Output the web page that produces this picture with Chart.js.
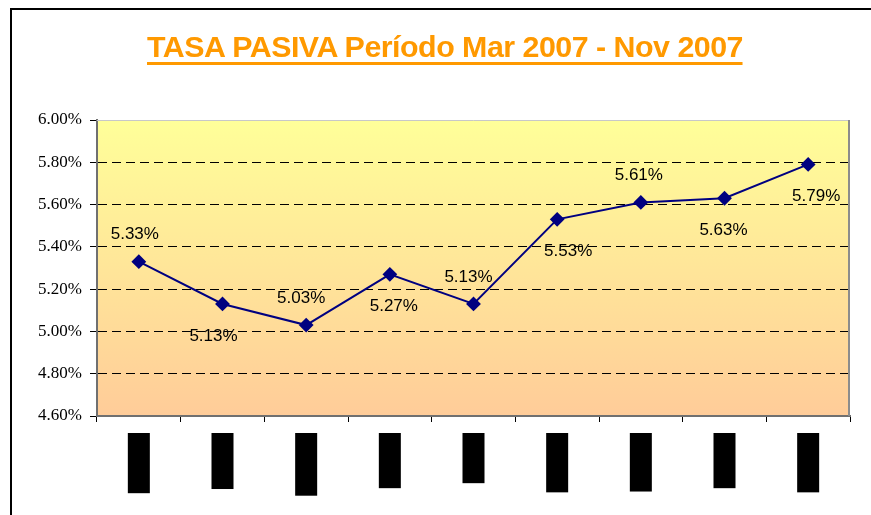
<!DOCTYPE html>
<html>
<head>
<meta charset="utf-8">
<script src="https://cdn.jsdelivr.net/npm/chart.js@4/dist/chart.umd.min.js"></script>
<style>
  html, body { margin: 0; padding: 0; background: #fff; }
  #wrap { position: relative; width: 871px; height: 515px; overflow: hidden; }
  #frame { position: absolute; left: 10px; top: 8px; width: 880px; height: 600px;
           border-left: 2px solid #000; border-top: 2px solid #000; }
  #title { position: absolute; left: 147px; top: 32px; white-space: nowrap;
           font: bold 30px "Liberation Sans", Arial, sans-serif; line-height: 30px;
           color: #FF9900; border-bottom: 3px solid #FF9900; transform-origin: 0 0;
           letter-spacing: -0.5px; }
  canvas { position: absolute; left: 0; top: 0; }
</style>
</head>
<body>
<div id="wrap">
  <canvas id="myChart" width="871" height="515"></canvas>
  <div id="frame"></div>
  <div id="title">TASA PASIVA Período Mar 2007 - Nov 2007</div>
</div>
<script>
const months = ['mar-07', 'abr-07', 'may-07', 'jun-07', 'jul-07', 'ago-07', 'sep-07', 'oct-07', 'nov-07'];
const tasa = [5.33, 5.13, 5.03, 5.27, 5.13, 5.53, 5.61, 5.63, 5.79];
const yTicks = [4.60, 4.80, 5.00, 5.20, 5.40, 5.60, 5.80, 6.00];

// where each value label sits relative to its point
const labelSide = ['up', 'down', 'up', 'down', 'up', 'down', 'up', 'down', 'down'];
const labelShift = [-4, -9, -5, 4, -5, 11, -2, -1, 8];

// squeeze the title to the width it has in the picture
const title = document.getElementById('title');
title.style.transform = 'scaleX(' + (596 / title.getBoundingClientRect().width) + ')';

const paint = {
  id: 'paint',
  beforeDraw(chart) {
    const {ctx, chartArea: a} = chart;
    const g = ctx.createLinearGradient(0, a.top, 0, a.bottom);
    g.addColorStop(0, '#FFFF99');
    g.addColorStop(1, '#FFCC99');
    ctx.save();
    ctx.fillStyle = g;
    ctx.fillRect(a.left, a.top, a.right - a.left, a.bottom - a.top);
    ctx.restore();
  },
  beforeDatasetsDraw(chart) {
    const {ctx, chartArea: a} = chart;
    ctx.save();
    ctx.strokeStyle = '#C8C8C8';
    ctx.lineWidth = 1;
    ctx.beginPath();
    ctx.moveTo(a.left, a.top + 0.5);
    ctx.lineTo(a.right, a.top + 0.5);
    ctx.stroke();
    ctx.strokeStyle = '#8C8C8C';
    ctx.lineWidth = 2;
    ctx.beginPath();
    ctx.moveTo(a.right - 1, a.top);
    ctx.lineTo(a.right - 1, a.bottom);
    ctx.stroke();
    ctx.restore();
  },
  afterDatasetsDraw(chart) {
    const {ctx} = chart;
    const meta = chart.getDatasetMeta(0);
    ctx.save();
    ctx.font = '17px "Liberation Sans", Arial, sans-serif';
    ctx.fillStyle = '#000';
    ctx.textAlign = 'center';
    ctx.textBaseline = 'middle';
    meta.data.forEach((pt, i) => {
      const dy = labelSide[i] === 'up' ? -27 : 32;
      ctx.fillText(tasa[i].toFixed(2) + '%', pt.x + labelShift[i], pt.y + dy);
    });
    ctx.restore();
  },
  afterDraw(chart) {
    // the month labels come out as solid black blocks in the picture
    const {ctx, chartArea: a} = chart;
    const x = chart.scales.x;
    ctx.save();
    ctx.font = 'bold 15px "Liberation Sans", Arial, sans-serif';
    ctx.textBaseline = 'middle';
    months.forEach((m, i) => {
      const cx = x.getPixelForValue(i);
      const w = ctx.measureText(m).width + 11;
      ctx.save();
      ctx.translate(cx, a.bottom + 17);
      ctx.rotate(Math.PI / 2);
      ctx.fillStyle = '#000';
      ctx.fillRect(0, -11, w, 22);
      ctx.fillText(m, 5, 0);
      ctx.restore();
    });
    ctx.restore();
  }
};

new Chart(document.getElementById('myChart'), {
  type: 'line',
  data: {
    labels: months,
    datasets: [{
      data: tasa,
      borderColor: '#000080',
      backgroundColor: '#000080',
      borderWidth: 2,
      pointStyle: 'rectRot',
      pointRadius: 6,
      pointHoverRadius: 6,
      tension: 0
    }]
  },
  options: {
    responsive: false,
    animation: false,
    events: [],
    layout: { padding: { top: 120, right: 21, left: 0, bottom: 0 } },
    plugins: { legend: { display: false }, title: { display: false }, tooltip: { enabled: false } },
    scales: {
      x: {
        offset: true,
        afterFit(s) { s.height = 99; },
        grid: { offset: true, color: 'transparent', tickColor: '#000', tickLength: 6, drawTicks: true },
        border: { color: '#707070', width: 2 },
        ticks: { display: false }
      },
      y: {
        min: yTicks[0],
        max: yTicks[yTicks.length - 1],
        afterFit(s) { s.width = 97; },
        afterBuildTicks(s) { s.ticks = yTicks.map(v => ({value: v})); },
        grid: {
          color: c => (c.index === 0 || c.index === yTicks.length - 1) ? 'transparent' : '#000',
          lineWidth: 1,
          tickColor: '#000',
          tickLength: 7,
          tickBorderDash: []
        },
        border: { color: '#707070', width: 2, dash: [9, 5] },
        ticks: {
          padding: 8,
          color: '#000',
          font: { family: '"Liberation Serif", "Times New Roman", serif', size: 17 },
          callback: v => v.toFixed(2) + '%'
        }
      }
    }
  },
  plugins: [paint]
});
</script>
</body>
</html>
